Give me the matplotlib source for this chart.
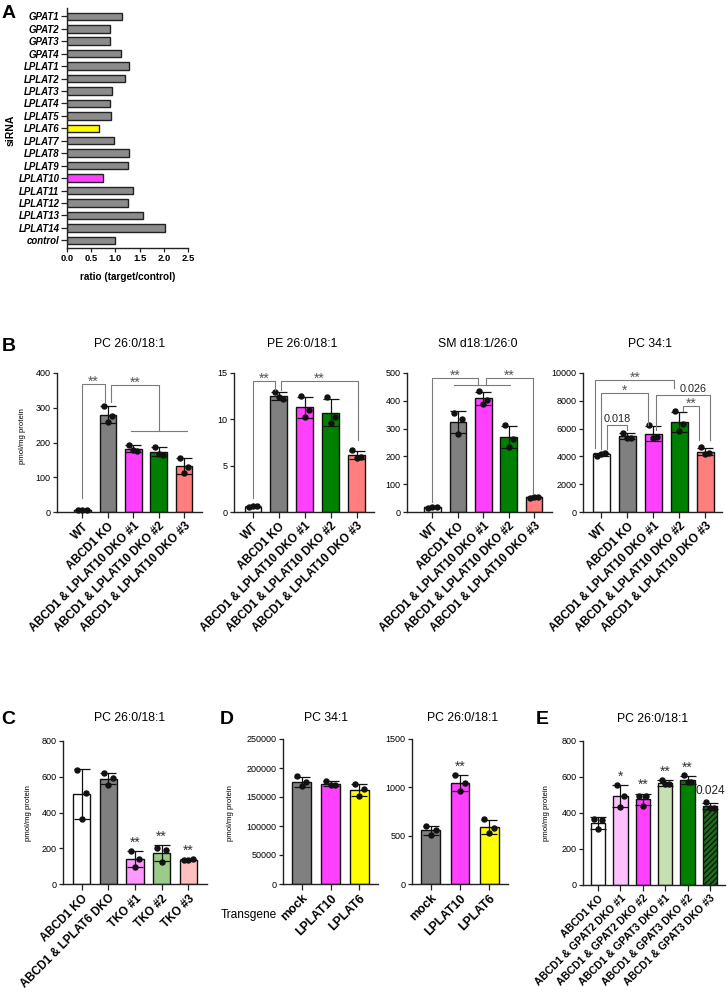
import numpy as np
import matplotlib
matplotlib.use('Agg')
import matplotlib.pyplot as plt

plt.rcParams['font.family'] = ['Liberation Sans', 'DejaVu Sans']
plt.rcParams['hatch.linewidth'] = 0.9

# ---------------- data ----------------
# panel A: siRNA screen
sirna_genes = ['GPAT1', 'GPAT2', 'GPAT3', 'GPAT4', 'LPLAT1', 'LPLAT2', 'LPLAT3',
               'LPLAT4', 'LPLAT5', 'LPLAT6', 'LPLAT7', 'LPLAT8', 'LPLAT9',
               'LPLAT10', 'LPLAT11', 'LPLAT12', 'LPLAT13', 'LPLAT14', 'control']
sirna_ratio = [1.14, 0.88, 0.88, 1.12, 1.29, 1.20, 0.93, 0.88, 0.91, 0.67,
               0.98, 1.29, 1.27, 0.75, 1.36, 1.26, 1.57, 2.02, 1.00]
sirna_highlight = {'LPLAT6': '#FFFF00', 'LPLAT10': '#FF40FF'}

# panel B: LPLAT10 DKO lines
dko_groups = ['WT', 'ABCD1 KO', 'ABCD1 & LPLAT10 DKO #1',
              'ABCD1 & LPLAT10 DKO #2', 'ABCD1 & LPLAT10 DKO #3']
pc26_b = [[5, 6, 7], [306, 276, 258], [193, 176, 178], [188, 165, 168], [155, 130, 111]]
pe26_b = [[0.55, 0.6, 0.6], [12.95, 12.2, 12.4], [12.5, 11.05, 10.3], [12.4, 10.2, 9.6], [6.7, 5.95, 5.85]]
sm26_b = [[16, 19, 18], [356, 336, 280], [435, 402, 388], [312, 264, 234], [52, 55, 55]]
pc34_b = [[4050, 4250, 4200], [5700, 5350, 5300], [6230, 5385, 5310], [7235, 6350, 5840], [4660, 4230, 4160]]
b_colors = ['white', '#808080', '#FF40FF', '#008000', '#FF7F7F']

# panel C: TKO lines
tko_groups = ['ABCD1 KO', 'ABCD1 & LPLAT6 DKO', 'TKO #1', 'TKO #2', 'TKO #3']
pc26_c = [[640, 509, 363], [621, 593, 556], [186, 140, 97], [203, 193, 125], [136, 138, 135]]
c_colors = ['white', '#808080', '#FF99FF', '#9BCB88', '#FFBFBF']
c_marks = ['', '', '**', '**', '**']

# panel D: transgene expression
transgenes = ['mock', 'LPLAT10', 'LPLAT6']
pc34_d = [[185500, 175100, 168200], [178000, 170000, 171000], [172200, 163600, 152000]]
pc26_d = [[603, 560, 510], [1128, 1041, 962], [672, 576, 524]]
d_colors = ['#808080', '#FF40FF', '#FFFF00']
d2_marks = ['', '**', '']

# panel E: GPAT DKO lines
gpat_groups = ['ABCD1 KO', 'ABCD1 & GPAT2 DKO #1', 'ABCD1 & GPAT2 DKO #2',
               'ABCD1 & GPAT3 DKO #1', 'ABCD1 & GPAT3 DKO #2', 'ABCD1 & GPAT3 DKO #3']
pc26_e = [[367, 359, 309], [556, 496, 435], [496, 494, 441], [585, 559, 559], [611, 570, 570], [459, 430, 426]]
e_colors = ['white', '#FFC0FF', '#FF40FF', '#C6E0B4', '#008000', '#1B6B1B']
e_hatch = ['', '', '', '', '', '//////']
e_marks = ['', '*', '**', '**', '**', '0.024']

# significance brackets: (x_left, x_right, top, left_end, right_end, label, label_x)
b1_brackets = [(0, 0.88, 369, 40, 317, '**', None), (1.12, 3.0, 365, 317, 233, '**', None)]
b1_lines = [(1.9, 4.1, 233)]
b2_brackets = [(0, 0.85, 14.1, 1.5, 13.2, '**', None), (1.1, 4.05, 14.1, 13.2, 7.75, '**', None)]
b3_brackets = [(0, 1.8, 483, 37, 456, '**', None), (2.12, 3.95, 483, 456, 67, '**', None)]
b3_lines = [(0.84, 3.06, 456)]
b4_brackets = [(0.22, 0.99, 6226, 4519, 5913, '0.018', None),
               (0.0, 1.82, 8558, 4519, 6274, '*', None),
               (-0.22, 2.81, 9471, 4591, 8918, '**', None),
               (2.12, 4.17, 8413, 5913, 5192, '0.026', 3.55),
               (3.14, 3.78, 7596, 7235, 5192, '**', None)]

# ---------------- layout helpers ----------------
W, H = 728, 992


def box(left, top, right, bottom):
    return [left / W, 1 - bottom / H, (right - left) / W, (bottom - top) / H]


def ftext(fig, x, y, s, **kw):
    fig.text(x / W, 1 - y / H, s, **kw)


def style_axes(ax):
    for side in ('top', 'right'):
        ax.spines[side].set_visible(False)
    for side in ('left', 'bottom'):
        ax.spines[side].set_linewidth(1.0)
        ax.spines[side].set_color('#222222')
    ax.tick_params(axis='both', direction='out', length=3, width=0.9, color='#222222',
                   labelsize=6.5, pad=1.5)


def dot_bars(ax, groups, values, colors, ylim, yticks, xlim, hatches=None,
             label_size=8.4, marks=None, mark_size=10):
    style_axes(ax)
    x = np.arange(len(groups))
    means = np.array([np.mean(v) for v in values])
    sds = np.array([np.std(v, ddof=1) for v in values])
    if hatches is None:
        hatches = [''] * len(groups)
    for xi, m, c, h in zip(x, means, colors, hatches):
        ax.bar(xi, m, width=0.65, color=c, edgecolor='#111111', linewidth=1.0,
               hatch=h, zorder=2)
    ax.errorbar(x, means, yerr=sds, fmt='none', ecolor='#111111', elinewidth=0.9,
                capsize=5.5, capthick=0.9, zorder=3)
    offs = [-0.16, 0.16, 0.0]
    for xi, v in zip(x, values):
        ax.plot(xi + np.array(offs[:len(v)]), v, 'o', color='#111111', ms=3.6,
                zorder=4, clip_on=False)
    if marks is not None:
        for xi, m, s, lab in zip(x, means, sds, marks):
            if not lab:
                continue
            star = lab.startswith('*')
            ax.annotate(lab, (xi, m + s), xytext=(0, 1 if star else 4),
                        textcoords='offset points', ha='center', va='bottom',
                        fontsize=mark_size if star else 8.5,
                        color='#333333' if star else '#222222')
    ax.set_xlim(*xlim)
    ax.set_ylim(*ylim)
    ax.set_yticks(yticks)
    ax.set_xticks(x)
    ax.set_xticklabels(groups, rotation=45, ha='right', rotation_mode='anchor',
                       fontsize=label_size, fontweight='bold')
    ax.tick_params(axis='x', length=4, pad=2)


def brackets(ax, items, lines=()):
    for x0, x1, top, y0, y1, lab, lx in items:
        ax.plot([x0, x0, x1, x1], [y0, top, top, y1], color='#7a7a7a', lw=0.8,
                clip_on=False, zorder=5)
        star = lab.startswith('*')
        ax.annotate(lab, ((x0 + x1) / 2 if lx is None else lx, top),
                    xytext=(0, -3.5 if star else 1), textcoords='offset points',
                    ha='center', va='bottom', fontsize=10 if star else 7.8,
                    color='#555555' if star else '#222222', zorder=6)
    for x0, x1, y in lines:
        ax.plot([x0, x1], [y, y], color='#7a7a7a', lw=0.8, clip_on=False, zorder=5)


fig = plt.figure(figsize=(W / 100, H / 100), dpi=100)

# ---------------- panel A ----------------
axA = fig.add_axes(box(67, 8, 188, 248))
style_axes(axA)
ypos = np.arange(len(sirna_genes))[::-1]
a_colors = [sirna_highlight.get(g, '#8C8C8C') for g in sirna_genes]
axA.barh(ypos, sirna_ratio, height=0.6, color=a_colors, edgecolor='#222222',
         linewidth=1.0, zorder=2)
axA.set_ylim(-0.62, len(sirna_genes) - 0.33)
axA.set_xlim(0, 2.5)
axA.set_xticks([0, 0.5, 1.0, 1.5, 2.0, 2.5])
axA.set_xticklabels(['0.0', '0.5', '1.0', '1.5', '2.0', '2.5'], fontweight='bold', fontsize=6.8)
axA.set_yticks(ypos)
axA.set_yticklabels(sirna_genes, fontstyle='italic', fontweight='bold', fontsize=6.9)
axA.tick_params(axis='y', length=4)
axA.set_xlabel('ratio (target/control)', fontweight='bold', fontsize=7.2, labelpad=6)
ftext(fig, 11, 130, 'siRNA', rotation=90, ha='center', va='center',
      fontsize=7.5, fontweight='bold')

# ---------------- panel B ----------------
axB1 = fig.add_axes(box(57, 373, 202, 512))
dot_bars(axB1, dko_groups, pc26_b, b_colors, (0, 400), range(0, 401, 100), (-1.0, 4.7))
brackets(axB1, b1_brackets, b1_lines)

axB2 = fig.add_axes(box(234, 373, 374, 512))
dot_bars(axB2, dko_groups, pe26_b, b_colors, (0, 15), [0, 5, 10, 15], (-0.73, 4.67))
brackets(axB2, b2_brackets)

axB3 = fig.add_axes(box(407, 373, 552, 512))
dot_bars(axB3, dko_groups, sm26_b, b_colors, (0, 500), range(0, 501, 100), (-1.0, 4.7))
brackets(axB3, b3_brackets, b3_lines)

axB4 = fig.add_axes(box(583, 373, 722, 512))
dot_bars(axB4, dko_groups, pc34_b, b_colors, (0, 10000), range(0, 10001, 2000), (-0.7, 4.65))
brackets(axB4, b4_brackets)

for x, t in [(130, 'PC 26:0/18:1'), (302, 'PE 26:0/18:1'), (478, 'SM d18:1/26:0'), (650, 'PC 34:1')]:
    ftext(fig, x, 344, t, ha='center', va='center', fontsize=8.8)
ftext(fig, 23, 436, 'pmol/mg protein', rotation=90, ha='center', va='center', fontsize=5.6)

# ---------------- panel C ----------------
axC = fig.add_axes(box(63, 741, 207, 884))
dot_bars(axC, tko_groups, pc26_c, c_colors, (0, 800), range(0, 801, 200), (-0.7, 4.7),
         marks=c_marks)
ftext(fig, 130, 718, 'PC 26:0/18:1', ha='center', va='center', fontsize=8.8)
ftext(fig, 28, 813, 'pmol/mg protein', rotation=90, ha='center', va='center', fontsize=5.6)

# ---------------- panel D ----------------
axD1 = fig.add_axes(box(283, 739, 378, 884))
dot_bars(axD1, transgenes, pc34_d, d_colors, (0, 250000), range(0, 250001, 50000),
         (-0.65, 2.65), label_size=8.8)
axD2 = fig.add_axes(box(412, 739, 508, 884))
dot_bars(axD2, transgenes, pc26_d, d_colors, (0, 1500), [0, 500, 1000, 1500],
         (-0.65, 2.65), label_size=8.8, marks=d2_marks)
ftext(fig, 326, 718, 'PC 34:1', ha='center', va='center', fontsize=8.8)
ftext(fig, 463, 718, 'PC 26:0/18:1', ha='center', va='center', fontsize=8.8)
ftext(fig, 230, 813, 'pmol/mg protein', rotation=90, ha='center', va='center', fontsize=5.6)
ftext(fig, 277, 915, 'Transgene', ha='right', va='center', fontsize=8.6)

# ---------------- panel E ----------------
axE = fig.add_axes(box(583, 741, 725, 885))
dot_bars(axE, gpat_groups, pc26_e, e_colors, (0, 800), range(0, 801, 200), (-0.67, 5.67),
         hatches=e_hatch, label_size=7.6, marks=e_marks)
ftext(fig, 653, 719, 'PC 26:0/18:1', ha='center', va='center', fontsize=8.8)
ftext(fig, 546, 813, 'pmol/mg protein', rotation=90, ha='center', va='center', fontsize=5.6)

# ---------------- panel letters ----------------
for x, y, s in [(9, 14, 'A'), (9, 346, 'B'), (8, 720, 'C'), (227, 720, 'D'), (542, 720, 'E')]:
    ftext(fig, x, y, s, ha='center', va='center', fontsize=14, fontweight='bold')

fig.savefig('out.png', dpi=100)
